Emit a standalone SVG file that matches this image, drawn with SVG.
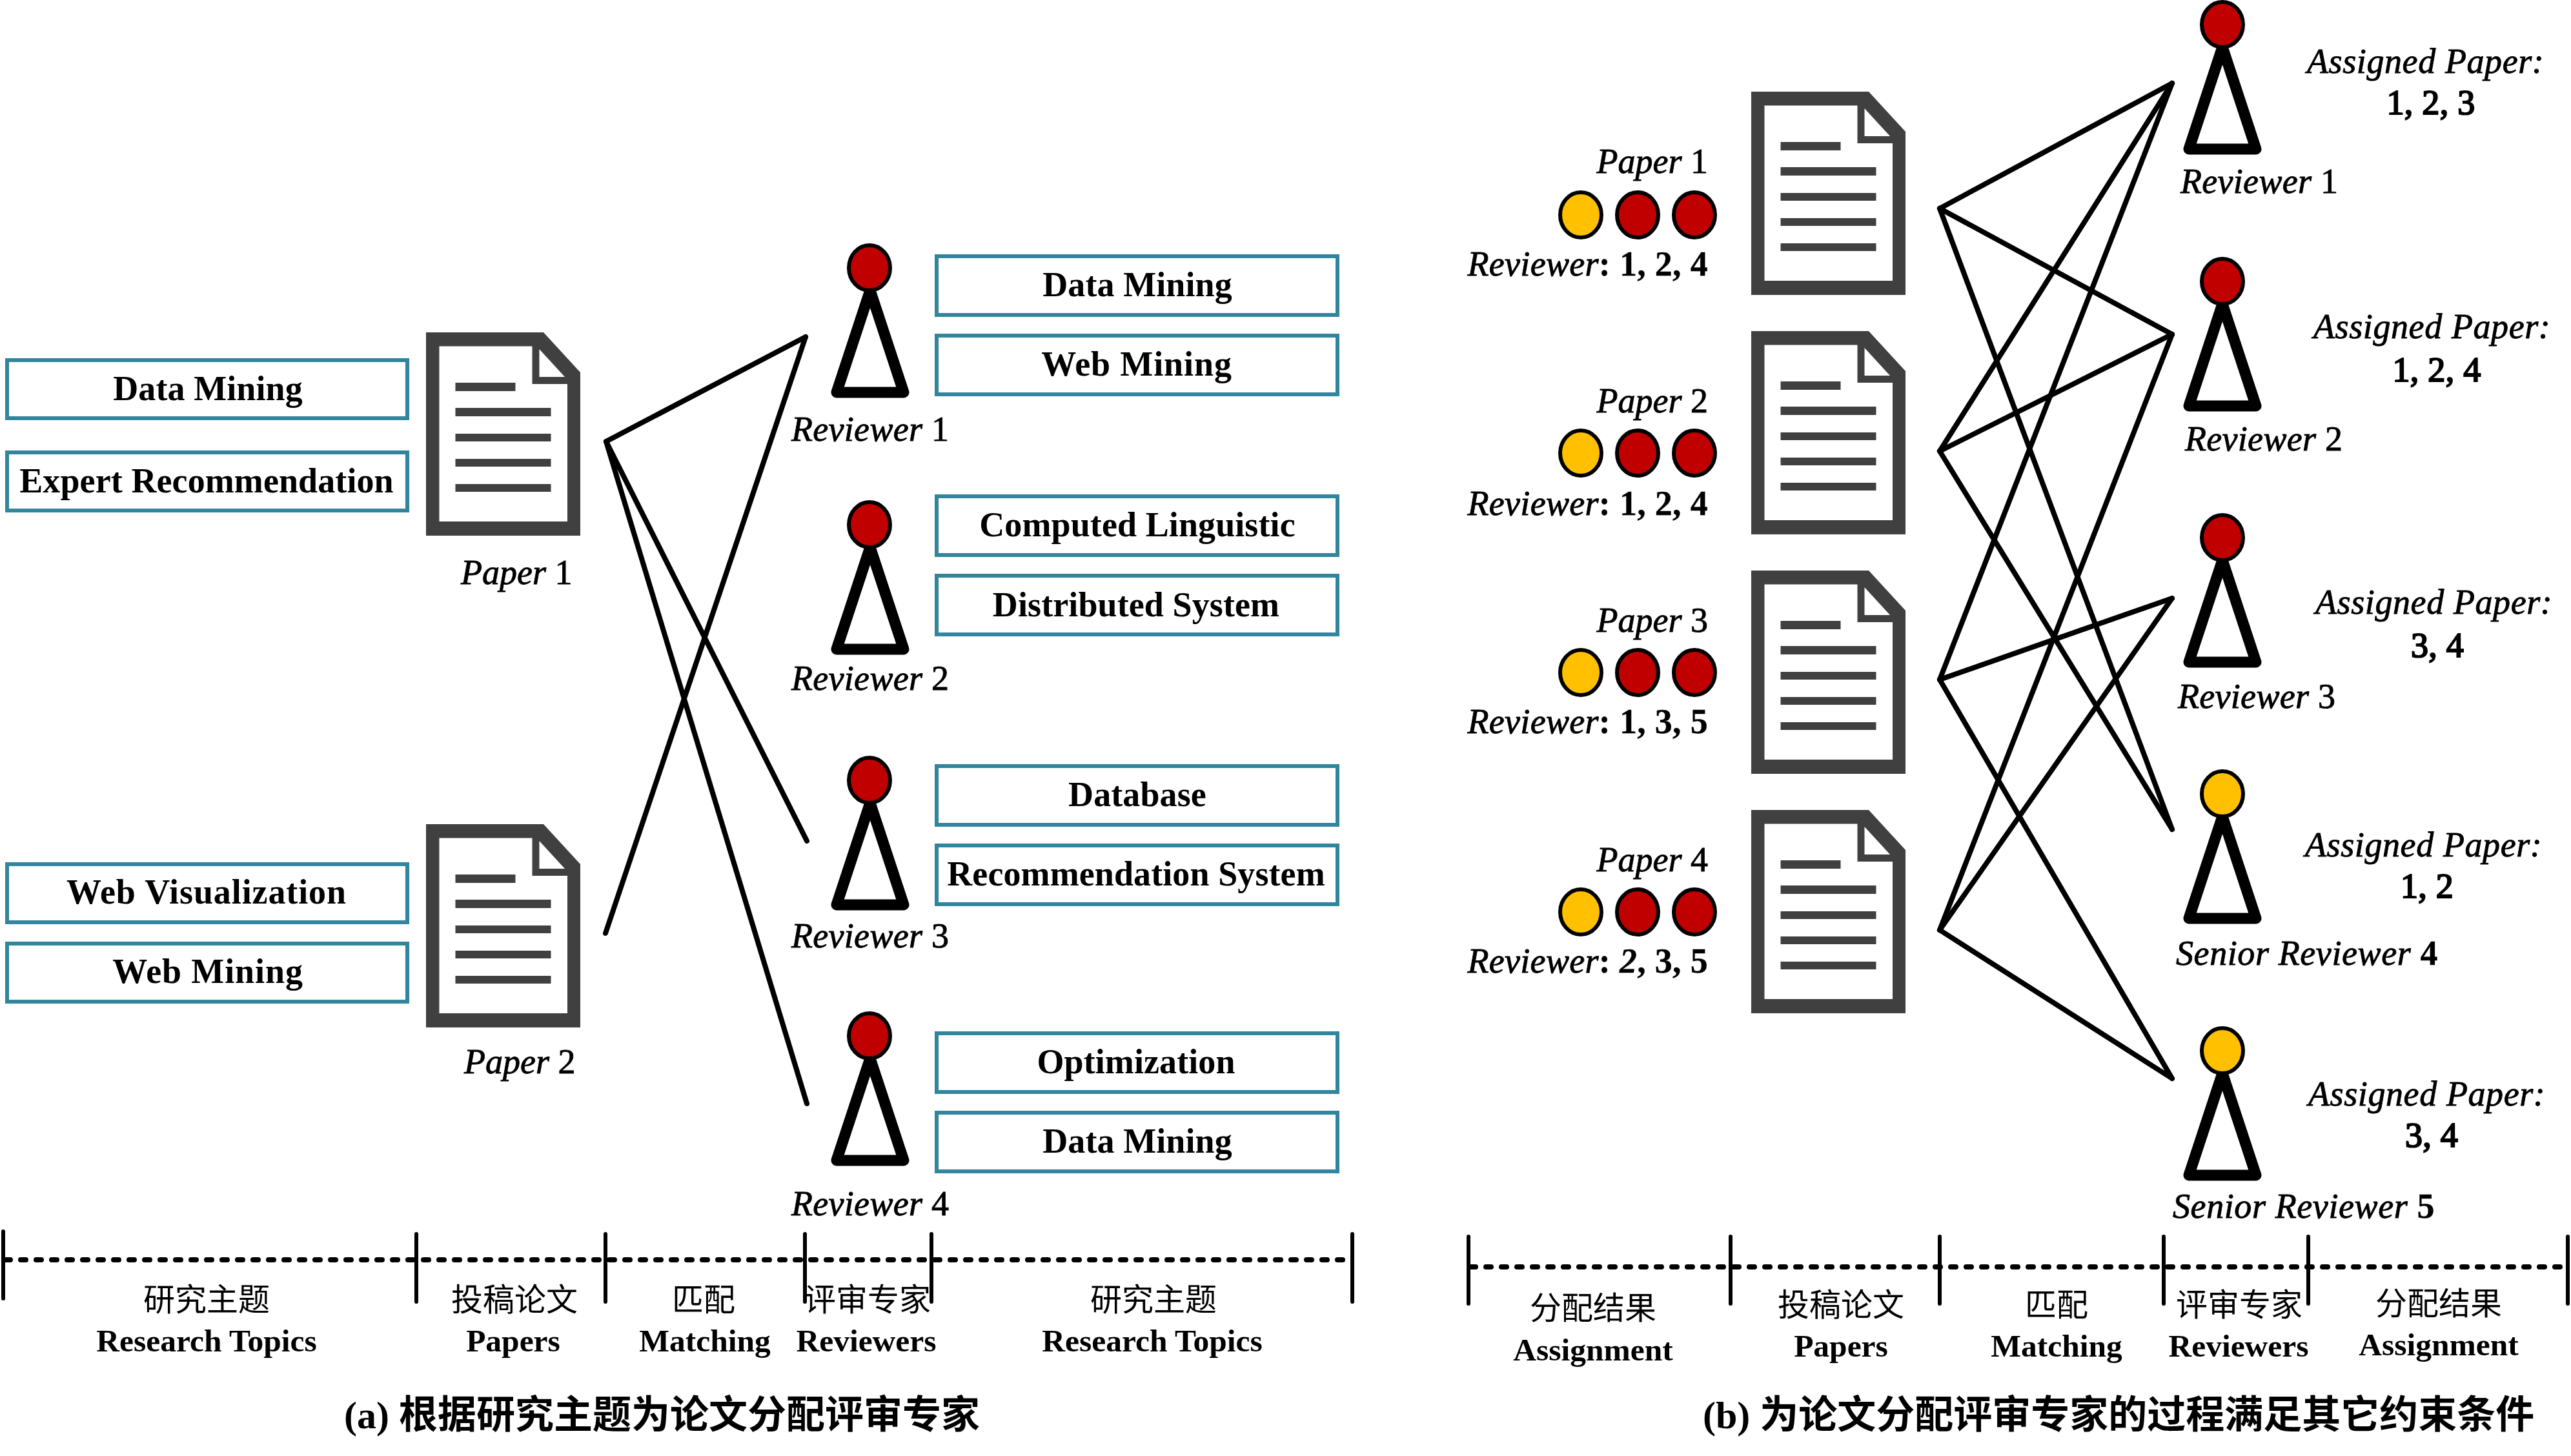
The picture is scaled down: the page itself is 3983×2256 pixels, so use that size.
<svg xmlns="http://www.w3.org/2000/svg" width="3983" height="2256" viewBox="0 0 3983 2256">
<style>
text{font-family:"Liberation Serif","Noto Sans CJK SC",serif;fill:#000}
.t{font-size:54px;font-weight:bold;text-anchor:middle;letter-spacing:.1px}
.w{letter-spacing:.9px}
.l{font-size:54px;font-style:italic;stroke:#000;stroke-width:.9px;letter-spacing:.3px}
.p{letter-spacing:0}
.a{letter-spacing:.6px}
.d{font-size:54px;text-anchor:middle;stroke:#000;stroke-width:2.200px;letter-spacing:.3px}
.b{font-style:normal;font-weight:bold;stroke-width:.3px}
.n{font-style:normal}
.bi{font-style:italic;font-weight:bold;stroke-width:.3px}
.c{font-size:49px;text-anchor:middle}
.e{font-size:49.500px;font-weight:bold;text-anchor:middle}
.cap{font-size:60px;font-weight:bold}
.box{fill:#fff;stroke:#31859C;stroke-width:6}
.edge{stroke:#000;stroke-width:8;stroke-linecap:round;fill:none}
.tick{stroke:#000;stroke-width:6;stroke-linecap:round}
.dot{stroke:#000;stroke-width:8;stroke-dasharray:8 16;stroke-linecap:round}
.red{fill:#C00000;stroke:#000;stroke-width:6}
.yel{fill:#FFC000;stroke:#000;stroke-width:6}
.body{fill:#fff;stroke:#000;stroke-width:17;stroke-linejoin:round}
</style>
<defs>
<g id="doc">
<path fill="#404040" d="M0 0H182L239 62V315H0Z"/>
<path fill="#fff" d="M20.500 21.500H164.500V80H219V293H20.500Z"/>
<path fill="#fff" d="M175.500 26L215 69H175.500Z"/>
<path fill="#404040" d="M45.500 78H138.500V91H45.500ZM45.500 117H193.500V130H45.500ZM45.500 157H193.500V169H45.500ZM45.500 196H193.500V208H45.500ZM45.500 235H193.500V247H45.500Z"/>
</g>
<path id="tri" class="body" d="M0 35L52 193H-52Z"/>
</defs>

<g id="connectors">
<line class="edge" x1="939" y1="684" x2="1248" y2="522"/>
<line class="edge" x1="939" y1="684" x2="1250" y2="1303"/>
<line class="edge" x1="939" y1="684" x2="1250" y2="1710"/>
<line class="edge" x1="938" y1="1446" x2="1248" y2="522"/>
<line class="edge" x1="3005" y1="323" x2="3365" y2="129"/>
<line class="edge" x1="3005" y1="323" x2="3365" y2="518"/>
<line class="edge" x1="3005" y1="323" x2="3365" y2="1285"/>
<line class="edge" x1="3005" y1="699" x2="3365" y2="129"/>
<line class="edge" x1="3005" y1="699" x2="3365" y2="518"/>
<line class="edge" x1="3005" y1="699" x2="3365" y2="1285"/>
<line class="edge" x1="3005" y1="1053" x2="3365" y2="129"/>
<line class="edge" x1="3005" y1="1053" x2="3365" y2="927"/>
<line class="edge" x1="3005" y1="1053" x2="3365" y2="1671"/>
<line class="edge" x1="3005" y1="1441" x2="3365" y2="518"/>
<line class="edge" x1="3005" y1="1441" x2="3365" y2="927"/>
<line class="edge" x1="3005" y1="1441" x2="3365" y2="1671"/>
</g>

<g id="a-topic-left">
<g id="a-t1"><rect class="box" x="11" y="558" width="620" height="90"/><text class="t" x="322" y="620">Data Mining</text></g>
<g id="a-t2"><rect class="box" x="11" y="701" width="620" height="90"/><text class="t" x="320" y="763">Expert Recommendation</text></g>
<g id="a-t3"><rect class="box" x="11" y="1339" width="620" height="90"/><text class="t w" x="320" y="1400">Web Visualization</text></g>
<g id="a-t4"><rect class="box" x="11" y="1462" width="620" height="90"/><text class="t w" x="322" y="1523">Web Mining</text></g>
</g>
<g id="a-paper1"><use href="#doc" x="660" y="515"/><text class="l p" x="714" y="905">Paper <tspan class="n">1</tspan></text></g>
<g id="a-paper2"><use href="#doc" x="660" y="1277"/><text class="l p" x="719" y="1663">Paper <tspan class="n">2</tspan></text></g>

<g id="a-reviewer1"><use href="#tri" x="1348" y="415"/><ellipse class="red" cx="1347" cy="415" rx="32" ry="35"/><text class="l" x="1226" y="683">Reviewer <tspan class="n">1</tspan></text></g>
<g id="a-reviewer2"><use href="#tri" x="1348" y="813"/><ellipse class="red" cx="1347" cy="813" rx="32" ry="35"/><text class="l" x="1226" y="1069">Reviewer <tspan class="n">2</tspan></text></g>
<g id="a-reviewer3"><use href="#tri" x="1348" y="1209"/><ellipse class="red" cx="1347" cy="1209" rx="32" ry="35"/><text class="l" x="1226" y="1468">Reviewer <tspan class="n">3</tspan></text></g>
<g id="a-reviewer4"><use href="#tri" x="1348" y="1605"/><ellipse class="red" cx="1347" cy="1605" rx="32" ry="35"/><text class="l" x="1226" y="1883">Reviewer <tspan class="n">4</tspan></text></g>

<g id="a-topic-right">
<g id="a-r1"><rect class="box" x="1451" y="397" width="621" height="91"/><text class="t" x="1762" y="459">Data Mining</text></g>
<g id="a-r2"><rect class="box" x="1451" y="520" width="621" height="91"/><text class="t w" x="1761" y="582">Web Mining</text></g>
<g id="a-r3"><rect class="box" x="1451" y="769" width="621" height="91"/><text class="t" x="1762" y="831">Computed Linguistic</text></g>
<g id="a-r4"><rect class="box" x="1451" y="892" width="621" height="91"/><text class="t" x="1760" y="955">Distributed System</text></g>
<g id="a-r5"><rect class="box" x="1451" y="1187" width="621" height="91"/><text class="t" x="1762" y="1249">Database</text></g>
<g id="a-r6"><rect class="box" x="1451" y="1310" width="621" height="91"/><text class="t" x="1760" y="1372">Recommendation System</text></g>
<g id="a-r7"><rect class="box" x="1451" y="1601" width="621" height="91"/><text class="t" x="1760" y="1663">Optimization</text></g>
<g id="a-r8"><rect class="box" x="1451" y="1724" width="621" height="91"/><text class="t" x="1762" y="1786">Data Mining</text></g>
</g>

<g id="a-timeline">
<line class="dot" x1="8" y1="1952" x2="2088" y2="1952"/>
<line class="tick" x1="5" y1="1908" x2="5" y2="2012"/>
<line class="tick" x1="645" y1="1912" x2="645" y2="2017"/>
<line class="tick" x1="938" y1="1912" x2="938" y2="2017"/>
<line class="tick" x1="1247" y1="1912" x2="1247" y2="2017"/>
<line class="tick" x1="1443" y1="1912" x2="1443" y2="2017"/>
<line class="tick" x1="2095" y1="1912" x2="2095" y2="2017"/>
<text class="c" x="320" y="2031">研究主题</text><text class="e" x="320" y="2094">Research Topics</text>
<text class="c" x="797" y="2031">投稿论文</text><text class="e" x="795" y="2094">Papers</text>
<text class="c" x="1090" y="2031">匹配</text><text class="e" x="1092" y="2094">Matching</text>
<text class="c" x="1344" y="2031">评审专家</text><text class="e" x="1342" y="2094">Reviewers</text>
<text class="c" x="1787" y="2031">研究主题</text><text class="e" x="1785" y="2094">Research Topics</text>
</g>
<text class="cap" x="533" y="2213">(a) 根据研究主题为论文分配评审专家</text>

<g id="b-paper1"><text class="l p" x="2646" y="268" text-anchor="end">Paper <tspan class="n">1</tspan></text>
<ellipse class="yel" cx="2449" cy="333" rx="32" ry="35"/><ellipse class="red" cx="2537" cy="333" rx="32" ry="35"/><ellipse class="red" cx="2625" cy="333" rx="32" ry="35"/>
<text class="l" x="2646" y="427" text-anchor="end">Reviewer<tspan class="b">: 1, 2, 4</tspan></text><use href="#doc" x="2713" y="142"/></g>
<g id="b-paper2"><text class="l p" x="2646" y="639" text-anchor="end">Paper <tspan class="n">2</tspan></text>
<ellipse class="yel" cx="2449" cy="702" rx="32" ry="35"/><ellipse class="red" cx="2537" cy="702" rx="32" ry="35"/><ellipse class="red" cx="2625" cy="702" rx="32" ry="35"/>
<text class="l" x="2646" y="798" text-anchor="end">Reviewer<tspan class="b">: 1, 2, 4</tspan></text><use href="#doc" x="2713" y="513"/></g>
<g id="b-paper3"><text class="l p" x="2646" y="979" text-anchor="end">Paper <tspan class="n">3</tspan></text>
<ellipse class="yel" cx="2449" cy="1042" rx="32" ry="35"/><ellipse class="red" cx="2537" cy="1042" rx="32" ry="35"/><ellipse class="red" cx="2625" cy="1042" rx="32" ry="35"/>
<text class="l" x="2646" y="1136" text-anchor="end">Reviewer<tspan class="b">: 1, 3, 5</tspan></text><use href="#doc" x="2713" y="884"/></g>
<g id="b-paper4"><text class="l p" x="2646" y="1350" text-anchor="end">Paper <tspan class="n">4</tspan></text>
<ellipse class="yel" cx="2449" cy="1413" rx="32" ry="35"/><ellipse class="red" cx="2537" cy="1413" rx="32" ry="35"/><ellipse class="red" cx="2625" cy="1413" rx="32" ry="35"/>
<text class="l" x="2646" y="1507" text-anchor="end">Reviewer<tspan class="b">: </tspan><tspan class="bi">2</tspan><tspan class="b">, 3, 5</tspan></text><use href="#doc" x="2713" y="1255"/></g>

<g id="b-reviewer1"><use href="#tri" x="3443" y="38"/><ellipse class="red" cx="3443" cy="38" rx="32" ry="35"/><text class="l" x="3378" y="299">Reviewer <tspan class="n">1</tspan></text>
<text class="l a" x="3574" y="113">Assigned Paper:</text><text class="d" x="3766" y="177">1, 2, 3</text></g>
<g id="b-reviewer2"><use href="#tri" x="3443" y="436"/><ellipse class="red" cx="3443" cy="436" rx="32" ry="35"/><text class="l" x="3385" y="698">Reviewer <tspan class="n">2</tspan></text>
<text class="l a" x="3584" y="524">Assigned Paper:</text><text class="d" x="3775" y="591">1, 2, 4</text></g>
<g id="b-reviewer3"><use href="#tri" x="3443" y="833"/><ellipse class="red" cx="3443" cy="833" rx="32" ry="35"/><text class="l" x="3374" y="1097">Reviewer <tspan class="n">3</tspan></text>
<text class="l a" x="3587" y="951">Assigned Paper:</text><text class="d" x="3776" y="1018">3, 4</text></g>
<g id="b-reviewer4"><use href="#tri" x="3443" y="1230"/><ellipse class="yel" cx="3443" cy="1230" rx="32" ry="35"/><text class="l a" x="3371" y="1495">Senior Reviewer <tspan class="b">4</tspan></text>
<text class="l a" x="3571" y="1327">Assigned Paper:</text><text class="d" x="3760" y="1391">1, 2</text></g>
<g id="b-reviewer5"><use href="#tri" x="3443" y="1628"/><ellipse class="yel" cx="3443" cy="1628" rx="32" ry="35"/><text class="l a" x="3366" y="1887">Senior Reviewer <tspan class="b">5</tspan></text>
<text class="l a" x="3576" y="1713">Assigned Paper:</text><text class="d" x="3767" y="1777">3, 4</text></g>

<g id="b-timeline">
<line class="dot" x1="2278" y1="1963" x2="3972" y2="1963"/>
<line class="tick" x1="2275" y1="1916" x2="2275" y2="2020"/>
<line class="tick" x1="2681" y1="1916" x2="2681" y2="2020"/>
<line class="tick" x1="3005" y1="1916" x2="3005" y2="2020"/>
<line class="tick" x1="3352" y1="1916" x2="3352" y2="2020"/>
<line class="tick" x1="3576" y1="1916" x2="3576" y2="2020"/>
<line class="tick" x1="3978" y1="1916" x2="3978" y2="2020"/>
<text class="c" x="2468" y="2044">分配结果</text><text class="e" x="2468" y="2108">Assignment</text>
<text class="c" x="2852" y="2039">投稿论文</text><text class="e" x="2852" y="2102">Papers</text>
<text class="c" x="3186" y="2039">匹配</text><text class="e" x="3186" y="2102">Matching</text>
<text class="c" x="3469" y="2039">评审专家</text><text class="e" x="3468" y="2102">Reviewers</text>
<text class="c" x="3778" y="2037">分配结果</text><text class="e" x="3778" y="2100">Assignment</text>
</g>
<text class="cap" x="2638" y="2213">(b) 为论文分配评审专家的过程满足其它约束条件</text>
</svg>
